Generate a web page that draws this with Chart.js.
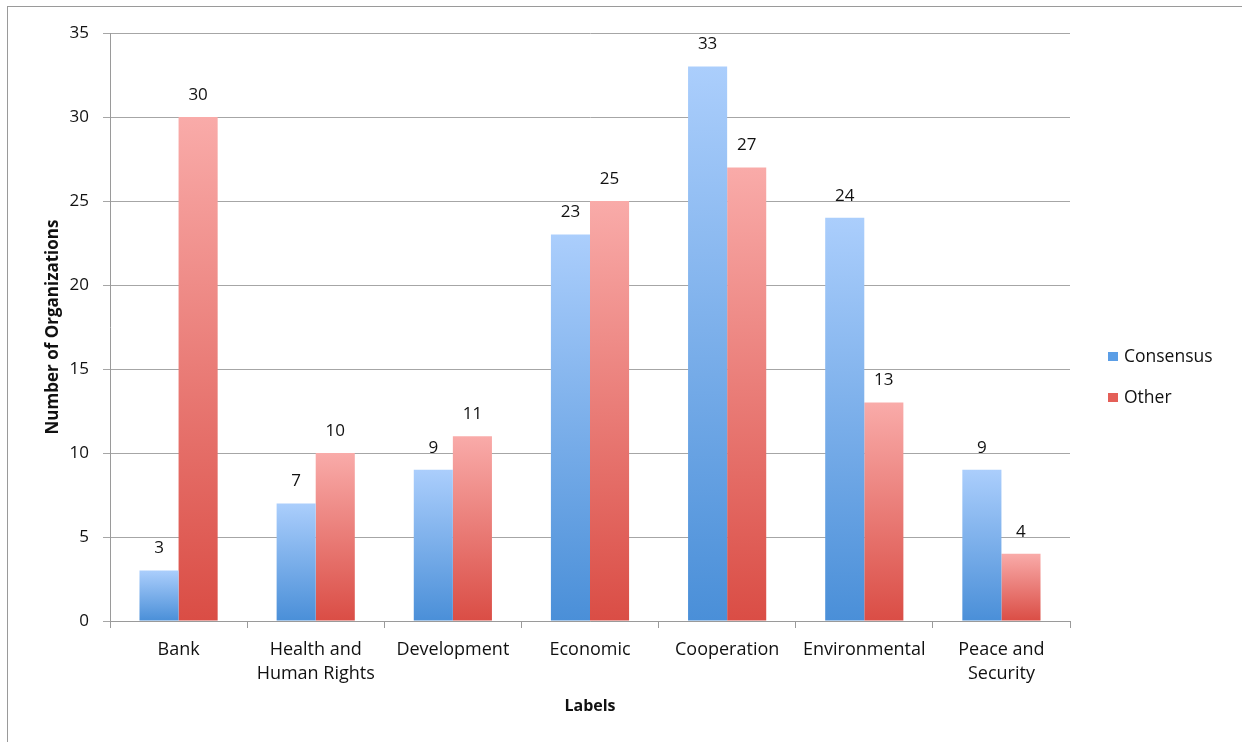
<!DOCTYPE html>
<html>
<head>
<meta charset="utf-8">
<style>
  html, body { margin: 0; padding: 0; background: #fff; }
  #wrap { position: absolute; left: 0; top: 0; width: 1242px; height: 742px; }
  #frame { position: absolute; left: 7px; top: 6px; width: 1300px; height: 800px; border: 1px solid #9a9a9a; box-sizing: border-box; }
  canvas { position: absolute; left: 0; top: 0; }
</style>
<script src="https://cdn.jsdelivr.net/npm/chart.js@4.4.0/dist/chart.umd.min.js"></script>
</head>
<body>
<div id="wrap">
  <div id="frame"></div>
  <canvas id="c" width="1242" height="742"></canvas>
</div>
<script>
const categories = ["Bank", ["Health and", "Human Rights"], "Development", "Economic", "Cooperation", "Environmental", ["Peace and", "Security"]];
const consensus = [3, 7, 9, 23, 33, 24, 9];
const other = [30, 10, 11, 25, 27, 13, 4];
const seriesNames = ["Consensus", "Other"];
const yTicks = [0, 5, 10, 15, 20, 25, 30, 35];

const FONT = "'Open Sans', sans-serif";
const gradStops = {
  Consensus: ["#abcefc", "#4a8fd8"],
  Other: ["#f9aba9", "#da4d45"]
};
const legendColors = { Consensus: "#5b9ee6", Other: "#e45f58" };

function barGradient(context) {
  const chart = context.chart;
  const stops = gradStops[context.dataset.label];
  if (context.type !== 'data' || !chart.chartArea) return stops[1];
  const ys = chart.scales.y;
  const top = ys.getPixelForValue(context.raw);
  const bottom = ys.getPixelForValue(0);
  const g = chart.ctx.createLinearGradient(0, top, 0, bottom);
  g.addColorStop(0, stops[0]);
  g.addColorStop(1, stops[1]);
  return g;
}

const valueLabels = {
  id: 'valueLabels',
  afterDatasetsDraw(chart) {
    const ctx = chart.ctx;
    ctx.save();
    ctx.font = "17px " + FONT;
    ctx.fillStyle = "#111";
    ctx.textAlign = "center";
    ctx.textBaseline = "middle";
    chart.data.datasets.forEach((ds, i) => {
      chart.getDatasetMeta(i).data.forEach((bar, j) => {
        ctx.fillText(String(ds.data[j]), bar.x, bar.y - 22);
      });
    });
    ctx.restore();
  }
};

const sideLegend = {
  id: 'sideLegend',
  afterDraw(chart) {
    const ctx = chart.ctx;
    ctx.save();
    ctx.font = "17.5px " + FONT;
    ctx.textBaseline = "middle";
    ctx.textAlign = "left";
    chart.data.datasets.forEach((ds, i) => {
      const y = 357 + i * 41;
      ctx.fillStyle = legendColors[ds.label];
      ctx.fillRect(1108, y - 5, 10, 9);
      ctx.fillStyle = "#111";
      ctx.fillText(ds.label, 1124, y);
    });
    ctx.restore();
  }
};

new Chart(document.getElementById('c'), {
  type: 'bar',
  data: {
    labels: categories,
    datasets: [
      { label: seriesNames[0], data: consensus, backgroundColor: barGradient, borderWidth: 0 },
      { label: seriesNames[1], data: other, backgroundColor: barGradient, borderWidth: 0 }
    ]
  },
  options: {
    responsive: false,
    animation: false,
    devicePixelRatio: 1,
    layout: { padding: { top: 33, right: 172, left: 0, bottom: 0 } },
    datasets: { bar: { categoryPercentage: 0.57, barPercentage: 1.0 } },
    plugins: { legend: { display: false }, tooltip: { enabled: false } },
    scales: {
      x: {
        offset: true,
        grid: { display: true, drawOnChartArea: false, drawTicks: true, tickLength: 7, color: "#9a9a9a", offset: true },
        border: { display: true, color: "#9a9a9a", width: 1 },
        ticks: { font: { family: FONT, size: 18, lineHeight: 1.333 }, color: "#111", padding: 10, maxRotation: 0, autoSkip: false },
        title: { display: true, text: "Labels", font: { family: FONT, size: 16, weight: "bold" }, color: "#111", padding: { top: 0, bottom: 26 } },
        afterFit(scale) { scale.height = 121; }
      },
      y: {
        min: 0, max: 35,
        afterBuildTicks(scale) { scale.ticks = yTicks.map(v => ({ value: v })); },
        grid: { color: "#a6a6a6", tickLength: 7, drawTicks: true },
        border: { display: true, color: "#9a9a9a", width: 1 },
        ticks: { font: { family: FONT, size: 17 }, color: "#111", padding: 14 },
        title: { display: true, text: "Number of Organizations", font: { family: FONT, size: 17, weight: "bold" }, color: "#111", padding: { top: 43, bottom: 0 } },
        afterFit(scale) { scale.width = 110; }
      }
    }
  },
  plugins: [valueLabels, sideLegend]
});
</script>
</body>
</html>
